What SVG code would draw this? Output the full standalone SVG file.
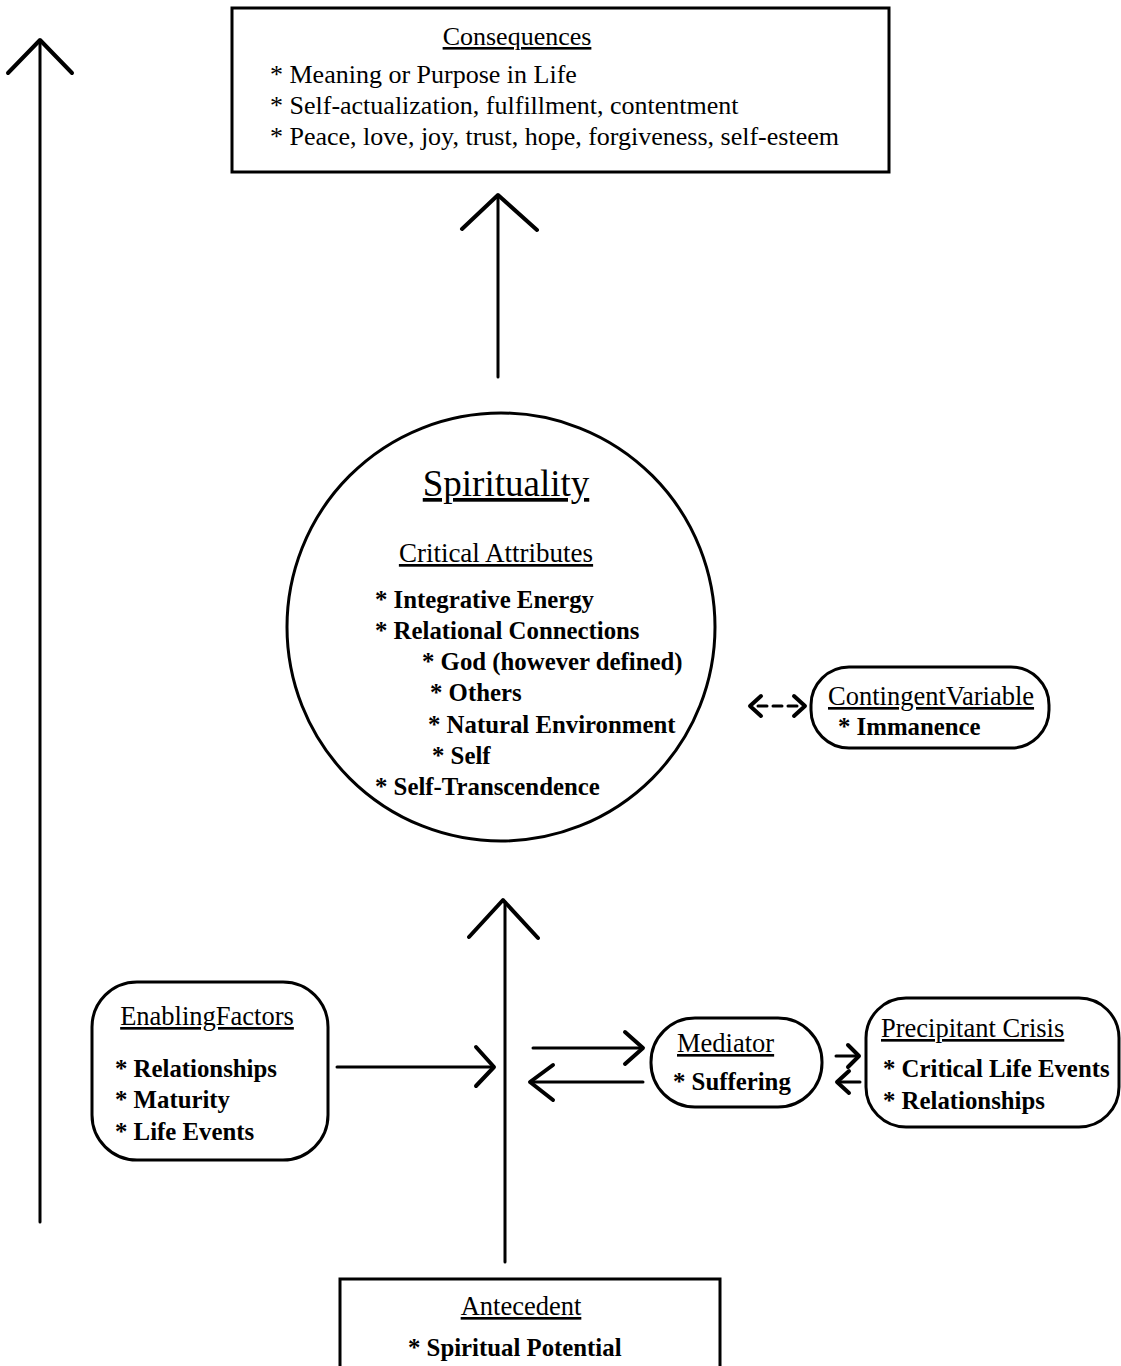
<svg xmlns="http://www.w3.org/2000/svg" width="1121" height="1366" viewBox="0 0 1121 1366">
<style>
text{font-family:"Liberation Serif","Times New Roman",serif;fill:#000}
.t{font-size:26px}
.h{font-size:26.5px}
.b{font-size:24.8px;font-weight:bold}
.u{text-decoration:underline}
.box{fill:#fff;stroke:#000;stroke-width:3}
.ln{fill:none;stroke:#000;stroke-width:3;stroke-linecap:round}
.hd{fill:none;stroke:#000;stroke-width:4;stroke-linecap:round;stroke-linejoin:round}
</style>
<rect width="1121" height="1366" fill="#fff"/>
<g id="connectors">
  <line class="ln" x1="40" y1="42" x2="40" y2="1222"/>
  <polyline class="hd" points="8,73 40,40 72,73"/>
  <line class="ln" x1="498" y1="197" x2="498" y2="377"/>
  <polyline class="hd" points="462,229 498,195 537,230"/>
  <line class="ln" x1="505" y1="902" x2="505" y2="1262"/>
  <polyline class="hd" points="469,937 503,900 538,938"/>
  <line class="ln" x1="337" y1="1067" x2="492" y2="1067"/>
  <polyline class="hd" points="476,1047 494,1067 476,1086"/>
  <line class="ln" x1="533" y1="1048" x2="641" y2="1048"/>
  <polyline class="hd" points="625,1032 643,1048 625,1064"/>
  <line class="ln" x1="532" y1="1082" x2="643" y2="1082"/>
  <polyline class="hd" points="553,1065 530,1082 553,1100"/>
  <line class="ln" x1="836" y1="1056" x2="858" y2="1056"/>
  <polyline class="hd" points="848,1045 859,1056 848,1067"/>
  <line class="ln" x1="838" y1="1082" x2="860" y2="1082"/>
  <polyline class="hd" points="849,1071 837,1082 849,1093"/>
  <line class="ln" x1="758" y1="706" x2="800" y2="706" stroke-dasharray="9,6"/>
  <polyline class="hd" points="761,696 750,706 761,716"/>
  <polyline class="hd" points="794,696 805,706 794,716"/>
</g>
<g id="consequences">
  <rect class="box" x="232" y="8" width="657" height="164"/>
  <text class="t u" x="517" y="45" text-anchor="middle">Consequences</text>
  <text class="t" x="270" y="83">* Meaning or Purpose in Life</text>
  <text class="t" x="270" y="114">* Self-actualization, fulfillment, contentment</text>
  <text class="t" x="270" y="145">* Peace, love, joy, trust, hope, forgiveness, self-esteem</text>
</g>
<g id="spirituality">
  <circle class="box" cx="501" cy="627" r="214"/>
  <text class="u" x="506" y="496" text-anchor="middle" font-size="37">Spirituality</text>
  <text class="u" x="496" y="562" text-anchor="middle" font-size="27">Critical Attributes</text>
  <text class="b" x="375" y="608">* Integrative Energy</text>
  <text class="b" x="375" y="639">* Relational Connections</text>
  <text class="b" x="422" y="670">* God (however defined)</text>
  <text class="b" x="430" y="701">* Others</text>
  <text class="b" x="428" y="733">* Natural Environment</text>
  <text class="b" x="432" y="764">* Self</text>
  <text class="b" x="375" y="795">* Self-Transcendence</text>
</g>
<g id="contingent-variable">
  <rect class="box" x="811" y="667" width="238" height="81" rx="38"/>
  <text class="h u" x="828" y="705">ContingentVariable</text>
  <text class="b" x="838" y="735">* Immanence</text>
</g>
<g id="enabling-factors">
  <rect class="box" x="92" y="982" width="236" height="178" rx="45"/>
  <text class="h u" x="207" y="1025" text-anchor="middle">EnablingFactors</text>
  <text class="b" x="115" y="1077">* Relationships</text>
  <text class="b" x="115" y="1108">* Maturity</text>
  <text class="b" x="115" y="1140">* Life Events</text>
</g>
<g id="mediator">
  <rect class="box" x="651" y="1018" width="171" height="89" rx="44"/>
  <text class="h u" x="677" y="1052">Mediator</text>
  <text class="b" x="673" y="1090">* Suffering</text>
</g>
<g id="precipitant-crisis">
  <rect class="box" x="866" y="998" width="253" height="129" rx="40"/>
  <text class="h u" x="881" y="1037">Precipitant Crisis</text>
  <text class="b" x="883" y="1077">* Critical Life Events</text>
  <text class="b" x="883" y="1109">* Relationships</text>
</g>
<g id="antecedent">
  <rect class="box" x="340" y="1279" width="380" height="100"/>
  <text class="h u" x="521" y="1315" text-anchor="middle">Antecedent</text>
  <text class="b" x="408" y="1356">* Spiritual Potential</text>
</g>
</svg>
